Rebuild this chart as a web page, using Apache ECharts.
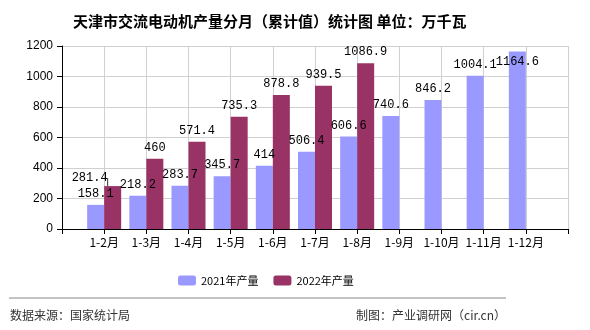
<!DOCTYPE html>
<html>
<head>
<meta charset="utf-8">
<script src="https://cdn.jsdelivr.net/npm/echarts@6/dist/echarts.min.js"></script>
<style>html,body{margin:0;padding:0;background:#fff;}#c{width:590px;height:330px;}</style>
</head>
<body>
<div id="c"></div>
<script>
var categories = ['', '1-2月', '1-3月', '1-4月', '1-5月', '1-6月', '1-7月', '1-8月', '1-9月', '1-10月', '1-11月', '1-12月', ''];
var values2021 = [null, 158.1, 218.2, 283.7, 345.7, 414, 506.4, 606.6, 740.6, 846.2, 1004.1, 1164.6, null];
var values2022 = [null, 281.4, 460, 571.4, 735.3, 878.8, 939.5, 1086.9, null, null, null, null, null];
var yTicks = [0, 200, 400, 600, 800, 1000, 1200];
var seriesNames = ['2021年产量', '2022年产量'];

var chart = echarts.init(document.getElementById('c'), null, {renderer: 'canvas'});
var labelFont = {color: '#000', fontSize: 12, fontFamily: 'Liberation Mono, monospace'};

function mk(vals, idx) {
  return vals.map(function (v, i) {
    if (v === null) return '-';
    if (idx === 0 && i === 11) return {value: v, label: {position: 'insideTop', distance: 4}};
    if (idx === 1 && i !== 1) return {value: v, labelLine: {show: false}};
    return v;
  });
}

chart.setOption({
  animation: false,
  title: {
    text: '天津市交流电动机产量分月（累计值）统计图 单位：万千瓦',
    left: 68, top: 9,
    textStyle: {fontSize: 15, fontWeight: 'bold', color: '#000', fontFamily: 'Noto Sans CJK SC'}
  },
  legend: {
    data: seriesNames,
    left: 173, top: 270,
    itemWidth: 18, itemHeight: 10, itemGap: 15,
    textStyle: {fontSize: 11, color: '#000', fontFamily: 'Noto Sans CJK SC'}
  },
  grid: {left: 62, right: 22, top: 46, bottom: 101},
  xAxis: {
    type: 'category',
    data: categories,
    boundaryGap: false,
    axisLine: {lineStyle: {color: '#000'}},
    axisTick: {show: true, length: 5, lineStyle: {color: '#000'}},
    axisLabel: {color: '#000', fontSize: 12, margin: 7, interval: 0, fontFamily: 'Noto Sans CJK SC'},
    splitLine: {show: true, lineStyle: {color: '#d0d0d0'}}
  },
  yAxis: {
    type: 'value',
    min: yTicks[0], max: yTicks[yTicks.length - 1], interval: 200,
    axisLine: {show: true, lineStyle: {color: '#000'}},
    axisTick: {show: true, length: 5, lineStyle: {color: '#000'}},
    axisLabel: {color: '#000', fontSize: 12, margin: 9, fontFamily: 'Liberation Sans, Arial', formatter: function (v) { return String(v); }},
    splitLine: {show: true, lineStyle: {color: '#d0d0d0'}}
  },
  series: [
    {
      name: seriesNames[0], type: 'bar', data: mk(values2021, 0),
      barWidth: 17, barGap: '0%',
      itemStyle: {color: '#9999ff'},
      label: Object.assign({show: true, position: 'top', distance: 5}, labelFont)
    },
    {
      name: seriesNames[1], type: 'bar', data: mk(values2022, 1),
      barWidth: 17, barGap: '0%',
      itemStyle: {color: '#993366'},
      label: Object.assign({show: true, position: 'top', distance: 5}, labelFont),
      labelLine: {show: true, lineStyle: {color: '#333', width: 1}},
      labelLayout: function (p) {
        if (p.dataIndex === 1) return {dx: -23, dy: 3};
        return {};
      }
    }
  ],
  graphic: [
    {type: 'line', shape: {x1: 9, y1: 298, x2: 506, y2: 298}, style: {stroke: '#888', lineWidth: 1}},
    {type: 'text', left: 10, top: 309, style: {text: '数据来源：国家统计局', fontSize: 12, fill: '#333', fontFamily: 'Noto Sans CJK SC'}},
    {type: 'text', right: 84, top: 309, style: {text: '制图：产业调研网（cir.cn）', fontSize: 12, fill: '#333', fontFamily: 'Noto Sans CJK SC'}}
  ]
});
</script>
</body>
</html>
